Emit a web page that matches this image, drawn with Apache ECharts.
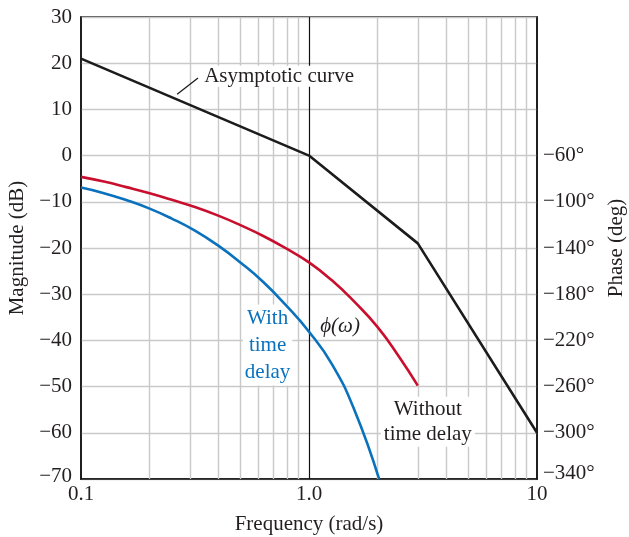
<!DOCTYPE html>
<html><head><meta charset="utf-8">
<script src="https://cdn.jsdelivr.net/npm/echarts@6/dist/echarts.min.js"></script>
<style>html,body{margin:0;padding:0;background:#fff}#c{width:629px;height:537px}</style>
</head><body><div id="c"></div>
<script>
// ---- data ----
const magTicks = [30, 20, 10, 0, -10, -20, -30, -40, -50, -60, -70];
const phaseTicks = [-60, -100, -140, -180, -220, -260, -300, -340];
const freqTickLabels = { '0.1': '0.1', '1': '1.0', '10': '10' };
const minorFreqGrid = [0.2, 0.3, 0.4, 0.5, 0.6, 0.7, 0.8, 0.9, 2, 3, 4, 5, 6, 7, 8, 9];
const asymFreq = [0.1, 1, 3, 10];
const asymMag = [21, 0, -19, -60];
const noDelayFreq = [0.1, 0.126, 0.158, 0.2, 0.25, 0.316, 0.4, 0.5, 0.63, 0.79, 1.0, 1.26, 1.58, 2.0, 2.5, 3.0];
const phaseNoDelay = [-78.4, -82.5, -87.3, -92.6, -98.3, -104.5, -112, -120.2, -129.6, -140.2, -152.5, -168, -186.5, -208.5, -235, -259.2];
const delayFreq = [0.1, 0.126, 0.158, 0.2, 0.25, 0.316, 0.4, 0.5, 0.63, 0.79, 1.0, 1.26, 1.58, 2.03];
const phaseDelay = [-87.7, -92.5, -98.5, -105.9, -114.5, -125, -138, -152.5, -169.4, -189.3, -212.5, -240.5, -280, -340];

const FONT = 'Liberation Serif';
const FS = 21;
const TXT = '#231f20';
const GRIDC = '#c9c9c9';
const zip = (a, b) => a.map((v, i) => [v, b[i]]);
const minus = s => String(s).replace('-', '\u2212');

const chart = echarts.init(document.getElementById('c'), null, { renderer: 'canvas' });
chart.setOption({
  animation: false,
  backgroundColor: '#fff',
  grid: { left: 81, right: 92, top: 17, bottom: 58, outerBoundsMode: 'none', containLabel: false, show: true, borderColor: '#111', borderWidth: 1.5, backgroundColor: 'transparent' },
  xAxis: {
    type: 'log', logBase: 10, min: 0.1, max: 10,
    axisLine: { show: true, onZero: false, lineStyle: { color: '#111', width: 1.5 } },
    axisTick: { show: false },
    splitLine: { show: false },
    minorTick: { show: false }, minorSplitLine: { show: false },
    axisLabel: {
      margin: 5, fontFamily: FONT, fontSize: FS, color: TXT,
      formatter: v => v < 0.5 ? freqTickLabels['0.1'] : (v < 5 ? freqTickLabels['1'] : freqTickLabels['10'])
    },
    name: 'Frequency (rad/s)', nameLocation: 'middle', nameGap: 35,
    nameTextStyle: { fontFamily: FONT, fontSize: FS, color: TXT }
  },
  yAxis: [
    {
      type: 'value', min: magTicks[magTicks.length - 1], max: magTicks[0], interval: 10,
      axisLine: { show: true, onZero: false, lineStyle: { color: '#111', width: 1.5 } },
      axisTick: { show: false },
      splitLine: { show: true, lineStyle: { color: GRIDC, width: 1.4 } },
      axisLabel: {
        margin: 9, fontFamily: FONT, fontSize: FS, color: TXT,
        formatter: v => v === -70 ? '{lo|' + minus(v) + '}' : minus(v),
        rich: { lo: { fontFamily: FONT, fontSize: FS, color: TXT, padding: [0, 0, 5, 0] } }
      },
      name: 'Magnitude (dB)', nameLocation: 'middle', nameGap: 50, nameRotate: 90,
      nameTextStyle: { fontFamily: FONT, fontSize: FS, color: TXT }
    },
    {
      type: 'value', position: 'right', min: phaseTicks[phaseTicks.length - 1], max: 60, interval: 40,
      axisLine: { show: true, onZero: false, lineStyle: { color: '#111', width: 1.5 } },
      axisTick: { show: false },
      splitLine: { show: false },
      axisLabel: {
        margin: 6, fontFamily: FONT, fontSize: FS, color: TXT,
        formatter: v => phaseTicks.indexOf(v) < 0 ? '' : (v === -340 ? '{lo|' + minus(v) + '\u00b0}' : minus(v) + '\u00b0'),
        rich: { lo: { fontFamily: FONT, fontSize: FS, color: TXT, padding: [0, 0, 12, 0] } }
      },
      name: 'Phase (deg)', nameLocation: 'middle', nameGap: 68, nameRotate: 90,
      nameTextStyle: { fontFamily: FONT, fontSize: FS, color: TXT }
    }
  ],
  series: [
    {
      name: 'gridlines', type: 'line', data: [], z: 1, silent: true,
      markLine: {
        silent: true, symbol: ['none', 'none'], label: { show: false }, animation: false,
        lineStyle: { color: GRIDC, width: 1.4, type: 'solid' },
        data: minorFreqGrid.map(f => ({ xAxis: f })).concat([{ xAxis: 1, lineStyle: { color: '#111', width: 1.2, type: 'solid' } }])
      }
    },
    {
      name: 'Asymptotic curve', type: 'line', yAxisIndex: 0, zlevel: 1, z: 4,
      data: zip(asymFreq, asymMag), symbol: 'none',
      lineStyle: { color: '#1c1c1c', width: 2.6 }
    },
    {
      name: 'Without time delay', type: 'line', yAxisIndex: 1, zlevel: 1, z: 3,
      data: zip(noDelayFreq, phaseNoDelay), symbol: 'none', smooth: 0.5,
      lineStyle: { color: '#c8102e', width: 2.6 }
    },
    {
      name: 'With time delay', type: 'line', yAxisIndex: 1, zlevel: 1, z: 3,
      data: zip(delayFreq, phaseDelay), symbol: 'none', smooth: 0.5,
      lineStyle: { color: '#0a72bd', width: 2.6 }
    }
  ]
});

const P = (f, db) => chart.convertToPixel({ xAxisIndex: 0, yAxisIndex: 0 }, [f, db]);
const a1 = P(0.264, 13.3), a2 = P(0.326, 16.8), aT = P(0.340, 17.2);
const wT = P(0.658, -41.0), phT = P(1.368, -36.9), woT = P(3.32, -57.6);
chart.setOption({
  graphic: [
    { type: 'line', zlevel: 1, z: 5, shape: { x1: a1[0], y1: a1[1], x2: a2[0], y2: a2[1] }, style: { stroke: '#1c1c1c', lineWidth: 1.3 } },
    { type: 'text', z: 100, x: aT[0], y: aT[1], style: { text: 'Asymptotic curve', fontFamily: FONT, fontSize: FS, fill: TXT, align: 'left', verticalAlign: 'middle', backgroundColor: '#fff', padding: [0, 2] } },
    { type: 'text', z: 100, x: wT[0], y: wT[1], style: { text: 'With\ntime\ndelay', fontFamily: FONT, fontSize: FS, lineHeight: 27, fill: '#0a72bd', align: 'center', verticalAlign: 'middle', backgroundColor: '#fff', padding: [0, 2] } },
    { type: 'text', z: 100, x: phT[0], y: phT[1], style: { text: '\u03d5(\u03c9)', fontFamily: FONT, fontStyle: 'italic', fontSize: FS, fill: TXT, align: 'center', verticalAlign: 'middle', backgroundColor: '#fff', padding: [0, 3] } },
    { type: 'text', z: 100, x: woT[0], y: woT[1], style: { text: 'Without\ntime delay', fontFamily: FONT, fontSize: FS, lineHeight: 25, fill: TXT, align: 'center', verticalAlign: 'middle', backgroundColor: '#fff', padding: [0, 3] } }
  ]
});
</script>
</body></html>
